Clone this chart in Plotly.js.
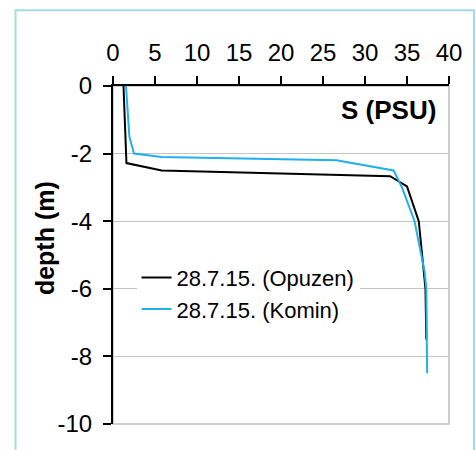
<!DOCTYPE html>
<html>
<head>
<meta charset="utf-8">
<script src="https://cdn.plot.ly/plotly-3.0.1.min.js"></script>
<style>
html,body{margin:0;padding:0;background:#fff;}
#chart{width:476px;height:450px;}
</style>
</head>
<body>
<div id="chart"></div>
<script>
// Salinity profiles (S in PSU) vs depth (m)
const opuzenS     = [1.25, 1.6, 5.8, 33.0, 35.0, 36.4, 37.0, 37.2, 37.3];
const opuzenDepth = [0, -2.28, -2.5, -2.67, -2.97, -4.0, -5.5, -6.0, -7.5];
const kominS      = [1.55, 1.95, 2.5, 5.8, 26.6, 33.4, 34.4, 35.9, 37.1, 37.3, 37.4];
const kominDepth  = [0, -1.5, -2.0, -2.1, -2.2, -2.5, -3.0, -4.0, -5.5, -6.0, -8.5];
const seriesNames = ['28.7.15. (Opuzen)', '28.7.15. (Komin)'];
const xTicks = [0, 5, 10, 15, 20, 25, 30, 35, 40];
const yTicks = [0, -2, -4, -6, -8, -10];

const FONT = 'Liberation Sans, Arial, sans-serif';

const traces = [
  {x: opuzenS, y: opuzenDepth, name: seriesNames[0], mode: 'lines',
   line: {color: '#000000', width: 2}, legendgroup: 'a'},
  {x: kominS, y: kominDepth, name: seriesNames[1], mode: 'lines',
   line: {color: '#1fb0ee', width: 2}, legendgroup: 'b'}
];

const layout = {
  width: 476, height: 450,
  margin: {l: 113, r: 27, t: 86, b: 26},
  paper_bgcolor: '#ffffff', plot_bgcolor: '#ffffff',
  font: {family: FONT, size: 24, color: '#000'},
  showlegend: true,
  legend: {x: 0.07, y: 0.495, xanchor: 'left', yanchor: 'top',
           bgcolor: '#ffffff', font: {family: FONT, size: 22, color: '#000'},
           tracegroupgap: 0, traceorder: 'grouped',
           entrywidth: 230, entrywidthmode: 'pixels'},
  xaxis: {side: 'top', range: [0, 40], tickvals: xTicks, ticktext: xTicks.map(String),
          showgrid: false, zeroline: false, showline: true, linecolor: '#000', linewidth: 2,
          ticks: 'outside', ticklen: 8, tickwidth: 2, tickcolor: '#000',
          ticklabelstandoff: 5, tickfont: {family: FONT, size: 24}, fixedrange: true},
  yaxis: {range: [-10, 0], tickvals: yTicks, ticktext: yTicks.map(String),
          showgrid: true, gridcolor: '#c4c4c4', gridwidth: 1, zeroline: false,
          showline: true, linecolor: '#000', linewidth: 2,
          ticks: 'outside', ticklen: 8, tickwidth: 2, tickcolor: '#000',
          ticklabelstandoff: 6, tickfont: {family: FONT, size: 24}, fixedrange: true},
  shapes: [
    {type: 'rect', xref: 'paper', yref: 'paper', x0: 0, x1: 1, y0: 0, y1: 1,
     line: {color: '#bfbfbf', width: 1.5}, layer: 'below'},
    {type: 'rect', xref: 'paper', yref: 'paper', x0: -0.2902, x1: 1.0744, y0: -0.2, y1: 1.2242,
     line: {color: '#a6dbe6', width: 2}, layer: 'below'}
  ],
  annotations: [
    {text: '<b>S (PSU)</b>', xref: 'paper', yref: 'paper', x: 0.82, y: 0.929,
     xanchor: 'center', yanchor: 'middle',
     showarrow: false, font: {family: FONT, size: 26, color: '#000'}},
    {text: '<b>depth (m)</b>', xref: 'paper', yref: 'paper', x: -0.2024, y: 0.55,
     xanchor: 'center', yanchor: 'middle',
     textangle: -90, showarrow: false, font: {family: FONT, size: 25, color: '#000'}}
  ]
};

Plotly.newPlot('chart', traces, layout, {displayModeBar: false, staticPlot: true});
</script>
</body>
</html>
